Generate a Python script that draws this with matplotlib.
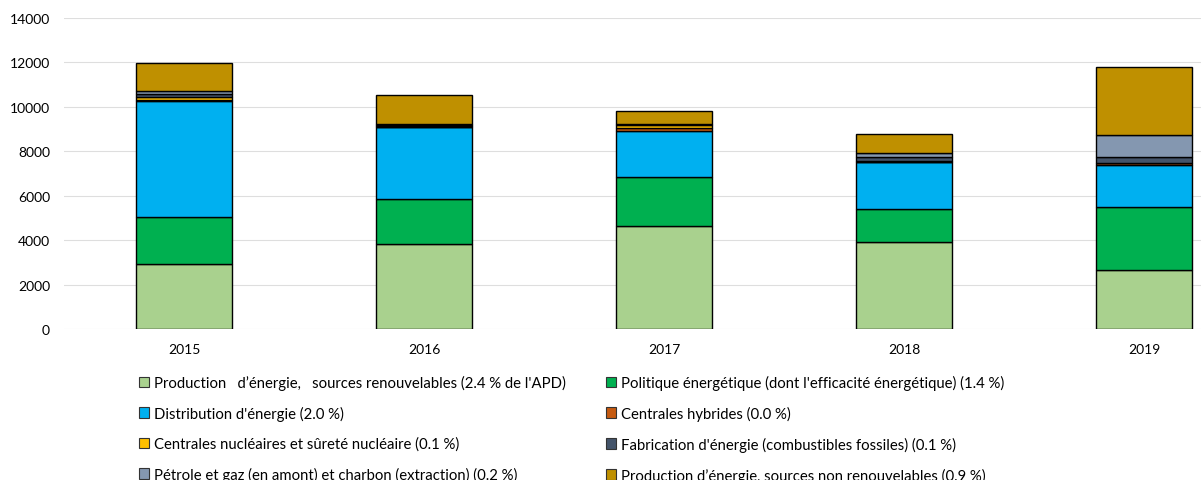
import matplotlib
matplotlib.use("Agg")
import matplotlib.pyplot as plt
from matplotlib.patches import Patch
import numpy as np

plt.rcParams.update({"font.family": ["Lato", "DejaVu Sans"], "font.size": 10})

years = ["2015", "2016", "2017", "2018", "2019"]

renouvelables = [2925, 3825, 4635, 3930, 2650]
politique = [2100, 2010, 2190, 1470, 2840]
distribution = [5250, 3250, 2100, 2130, 1900]
hybrides = [40, 20, 110, 10, 75]
nucleaire = [150, 40, 130, 10, 20]
fossiles = [100, 60, 50, 200, 240]
petrole = [170, 40, 30, 180, 1005]
non_renouvelables = [1260, 1270, 580, 870, 3050]

labels = [
    "Production   d\u2019énergie,   sources renouvelables (2.4 % de l'APD)",
    "Politique énergétique (dont l'efficacité énergétique) (1.4 %)",
    "Distribution d'énergie (2.0 %)",
    "Centrales hybrides (0.0 %)",
    "Centrales nucléaires et sûreté nucléaire (0.1 %)",
    "Fabrication d'énergie (combustibles fossiles) (0.1 %)",
    "Pétrole et gaz (en amont) et charbon (extraction) (0.2 %)",
    "Production d\u2019énergie, sources non renouvelables (0.9 %)",
]
series = [renouvelables, politique, distribution, hybrides,
          nucleaire, fossiles, petrole, non_renouvelables]
colors = ["#A9D18E", "#00B050", "#00B0F0", "#C55A11",
          "#FFC000", "#44546A", "#8497B0", "#BF9000"]

fig = plt.figure(figsize=(12.01, 4.81), dpi=100, facecolor="white")
ax = fig.add_axes([64 / 1201, 151 / 481, 1200 / 1201, 311 / 481])

x = np.arange(len(years))
bottom = np.zeros(len(years))
for vals, col in zip(series, colors):
    ax.bar(x, vals, width=0.4, bottom=bottom, color=col,
           edgecolor="black", linewidth=1.0, zorder=3)
    bottom += np.array(vals)

ax.set_xlim(-0.5, 4.5)
ax.set_ylim(0, 14000)
ax.set_yticks(range(0, 14001, 2000))
ax.set_xticks(x)
ax.set_xticklabels(years)
ax.grid(axis="y", color="#DEDEDE", lw=0.8, zorder=0)
for s in ax.spines.values():
    s.set_visible(False)
ax.tick_params(length=0, labelsize=10, colors="#000000")
ax.tick_params(axis="y", pad=10)
ax.tick_params(axis="x", pad=10)

# legend in two columns, read row by row
handles = [Patch(facecolor=c, edgecolor="#333333", linewidth=0.8) for c in colors]
common = dict(frameon=False, fontsize=10.7, handlelength=0.7, handleheight=0.7,
              handletextpad=0.3, labelspacing=1.06, borderpad=0, borderaxespad=0)
fig.legend(handles[0::2], labels[0::2], loc="upper left",
           bbox_to_anchor=(139 / 1201, 1 - 376 / 481), **common)
fig.legend(handles[1::2], labels[1::2], loc="upper left",
           bbox_to_anchor=(606 / 1201, 1 - 376 / 481), **common)

fig.savefig("out.png", dpi=100, facecolor="white")
